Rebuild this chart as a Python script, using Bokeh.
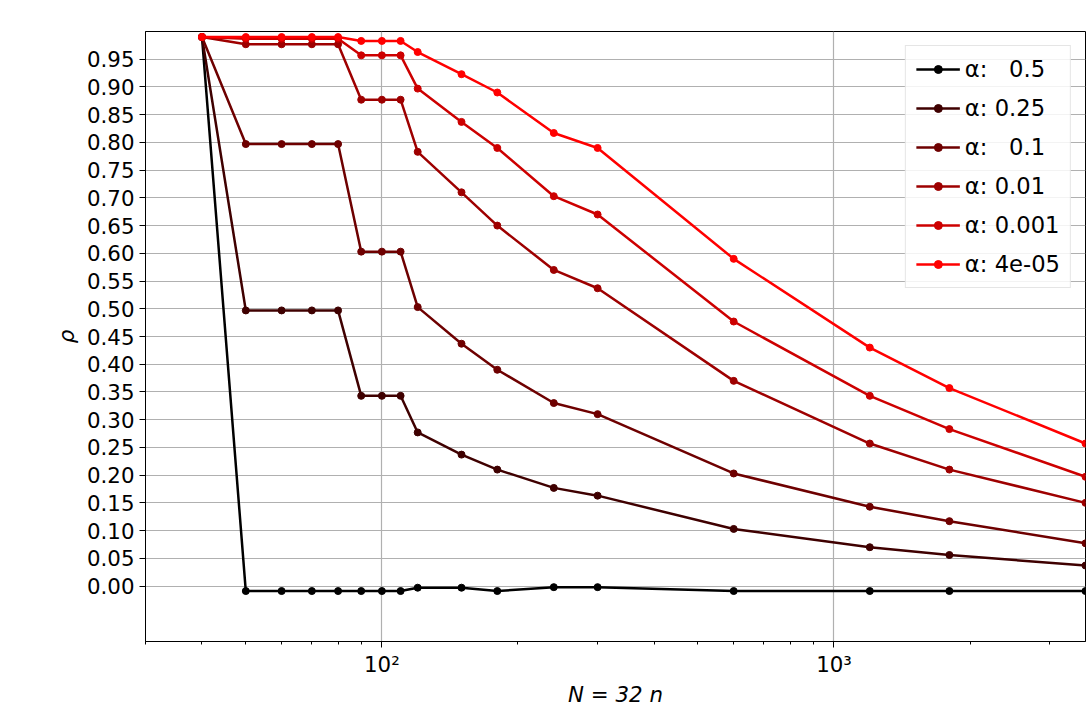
from bokeh.plotting import figure
from bokeh.models import FixedTicker, Legend, LegendItem, Range1d
from bokeh.embed import file_html
from bokeh.resources import INLINE

n_values = [40, 50, 60, 70, 80, 90, 100, 110, 120, 150, 180, 240, 300, 600, 1200, 1800, 3600]

alpha_labels = ["α:   0.5", "α: 0.25", "α:   0.1", "α: 0.01", "α: 0.001", "α: 4e-05"]
rho_05 = [0.99, -0.009, -0.009, -0.009, -0.009, -0.009, -0.009, -0.009, -0.003, -0.003, -0.009,
          -0.002, -0.002, -0.009, -0.009, -0.009, -0.009]
rho_025 = [0.99, 0.497, 0.497, 0.497, 0.497, 0.343, 0.343, 0.343, 0.277, 0.237, 0.21,
           0.177, 0.163, 0.103, 0.07, 0.056, 0.037]
rho_01 = [0.99, 0.797, 0.797, 0.797, 0.797, 0.603, 0.603, 0.603, 0.503, 0.437, 0.39,
          0.33, 0.31, 0.203, 0.143, 0.117, 0.077]
rho_001 = [0.99, 0.977, 0.977, 0.977, 0.977, 0.877, 0.877, 0.877, 0.783, 0.71, 0.65,
           0.57, 0.537, 0.37, 0.257, 0.21, 0.15]
rho_0001 = [0.99, 0.987, 0.987, 0.987, 0.987, 0.957, 0.957, 0.957, 0.897, 0.837, 0.79,
            0.703, 0.67, 0.477, 0.343, 0.283, 0.197]
rho_4e5 = [0.99, 0.99, 0.99, 0.99, 0.99, 0.983, 0.983, 0.983, 0.963, 0.923, 0.89,
           0.817, 0.79, 0.59, 0.43, 0.357, 0.257]
series = [rho_05, rho_025, rho_01, rho_001, rho_0001, rho_4e5]
colors = ["#000000", "#3f0000", "#6e0000", "#9e0000", "#cd0000", "#ff0000"]

y_ticks = [round(i * 0.05, 2) for i in range(20)]

p = figure(
    width=1088, height=710,
    x_axis_type="log",
    x_range=Range1d(30, 3600), y_range=Range1d(-0.1, 1.0),
    output_backend="svg", toolbar_location=None,
    min_border_left=145, min_border_right=3, min_border_top=31, min_border_bottom=69,
    outline_line_color="black",
)

items = []
for label, ys, c in zip(alpha_labels, series, colors):
    r1 = p.line(n_values, ys, line_color=c, line_width=2.5)
    r2 = p.scatter(n_values, ys, size=7, fill_color=c, line_color=c)
    items.append(LegendItem(label=label, renderers=[r1, r2]))

p.xaxis.ticker = FixedTicker(ticks=[100, 1000],
                             minor_ticks=[30, 40, 50, 60, 70, 80, 90, 200, 300, 400, 500,
                                          600, 700, 800, 900, 2000, 3000])
p.xaxis.major_label_overrides = {100: "10²", 1000: "10³"}
p.yaxis.ticker = FixedTicker(ticks=y_ticks)
p.yaxis.major_label_overrides = {t: f"{t:.2f}" for t in y_ticks}

for ax in (p.xaxis, p.yaxis):
    ax.major_label_text_font = "DejaVu Sans"
    ax.major_label_text_font_size = "16pt"
    ax.major_label_text_color = "black"
    ax.axis_label_text_font = "DejaVu Sans"
    ax.axis_label_text_font_size = "16pt"
    ax.axis_label_text_font_style = "italic"
    ax.axis_label_text_color = "black"
    ax.major_tick_in = 0
    ax.major_tick_out = 6
    ax.minor_tick_in = 0
    ax.minor_tick_out = 3
    ax.axis_line_color = "black"
p.yaxis.minor_tick_line_color = None
p.xaxis.axis_label = "N = 32 n"
p.xaxis.axis_label_standoff = 2
p.xaxis.major_label_standoff = 4
p.yaxis.axis_label = "ρ"

p.grid.grid_line_color = "#b0b0b0"
p.grid.grid_line_width = 1.2
p.xgrid.minor_grid_line_color = None

legend = Legend(items=items, location="top_right",
                label_text_font="DejaVu Sans", label_text_font_size="17pt",
                label_text_color="black",
                glyph_width=44, spacing=13, padding=10, margin=14,
                border_line_color="#cccccc", background_fill_alpha=0.85)
p.add_layout(legend)

open("out.html", "w").write(file_html(p, INLINE))
